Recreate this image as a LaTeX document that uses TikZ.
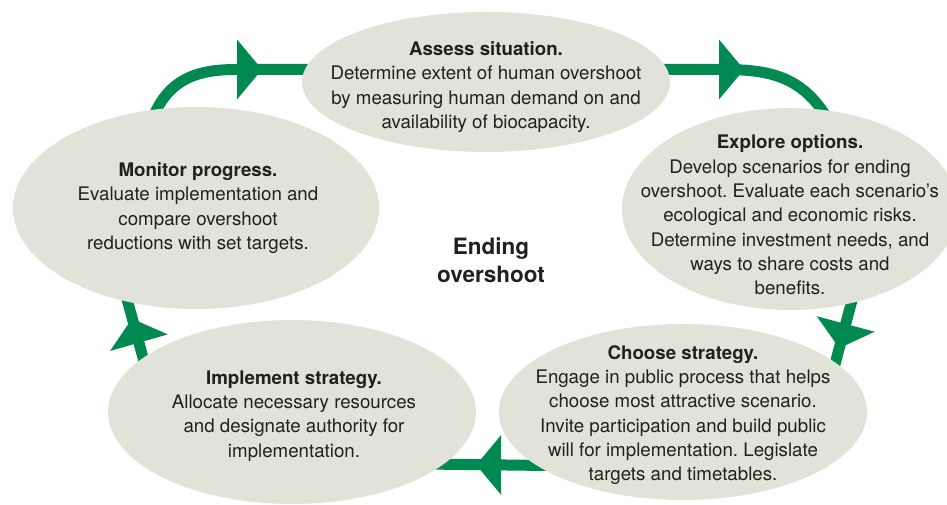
\documentclass[tikz,border=0pt]{standalone}
\usepackage{fontspec}
\setmainfont{TeX Gyre Heros}
\usepackage{tikz}
\usetikzlibrary{shapes.geometric,backgrounds,calc}

\definecolor{cycgreen}{RGB}{0,138,82}
\definecolor{stagefill}{RGB}{225,227,217}
\definecolor{inkgray}{RGB}{35,31,32}
\frenchspacing

\begin{document}
\begin{tikzpicture}[x=1pt,y=1pt,
  stage/.style={ellipse, fill=stagefill, inner sep=0pt},
  stagetext/.style={align=center, text=inkgray, font=\fontsize{18.7}{24.3}\selectfont},
  hubtext/.style={align=center, text=inkgray, font=\bfseries\fontsize{22.5}{28}\selectfont},
  cyc/.style={draw=cycgreen, line width=11pt, shorten <=-12pt, shorten >=-12pt},
  barb/.pic={\fill[cycgreen] (0,30) -- (25,0) -- (0,-30) -- cycle;}
]
\useasboundingbox (0,0) rectangle (947,505);

% the five stages
\node[stage, minimum width=368pt, minimum height=140pt] (assess) at (486,423) {};
\node[stage, minimum width=336pt, minimum height=202pt] (explore) at (790,296) {};
\node[stage, minimum width=368pt, minimum height=176pt] (choose) at (683,93) {};
\node[stage, minimum width=368pt, minimum height=184pt] (implement) at (292,93) {};
\node[stage, minimum width=366pt, minimum height=202pt] (monitor) at (196,297) {};

\node[stagetext] (assess-t) at ([yshift=-5pt]assess.center)
  {\textbf{Assess situation.}\\Determine extent of human overshoot\\by measuring human demand on and\\availability of biocapacity.};
\node[stagetext] (explore-t) at ([yshift=-6pt]explore.center)
  {\textbf{Explore options.}\\Develop scenarios for ending\\overshoot. Evaluate each scenario’s\\ecological and economic risks.\\Determine investment needs, and\\ways to share costs and\\benefits.};
\node[stagetext] (choose-t) at ([yshift=-3pt]choose.center)
  {\textbf{Choose strategy.}\\Engage in public process that helps\\choose most attractive scenario.\\Invite participation and build public\\will for implementation. Legislate\\targets and timetables.};
\node[stagetext] (implement-t) at ([xshift=2pt,yshift=-4pt]implement.center)
  {\textbf{Implement strategy.}\\Allocate necessary resources\\and designate authority for\\implementation.};
\node[stagetext] (monitor-t) at ([xshift=2pt]monitor.center)
  {\textbf{Monitor progress.}\\Evaluate implementation and\\compare overshoot\\reductions with set targets.};

\node[hubtext] (hub) at (491,245) {Ending\\overshoot};

% cycle behind the stages
\begin{scope}[on background layer]
  \coordinate (a1) at (237,435.5);
  \coordinate (b1) at (719,435.5);
  \draw[cyc] (monitor.112) to[out=70,in=180] (a1) -- (assess.176);
  \draw[cyc] (assess.4) -- (b1) to[out=0,in=120] (explore.72);
  \draw[cyc] (explore.303) -- (choose.18);
  \draw[cyc] (choose.200) -- (implement.341);
  \draw[cyc] (implement.160) -- (monitor.234);
  \pic at (a1) {barb};
  \pic at (b1) {barb};
  \pic[rotate=-105] at ($(explore.303)!0.35!(choose.18)$) {barb};
  \pic[rotate=180] at ($(choose.200)!0.38!(implement.341)$) {barb};
  \pic[rotate=106] at ($(implement.160)!0.27!(monitor.234)$) {barb};
\end{scope}
\end{tikzpicture}
\end{document}
